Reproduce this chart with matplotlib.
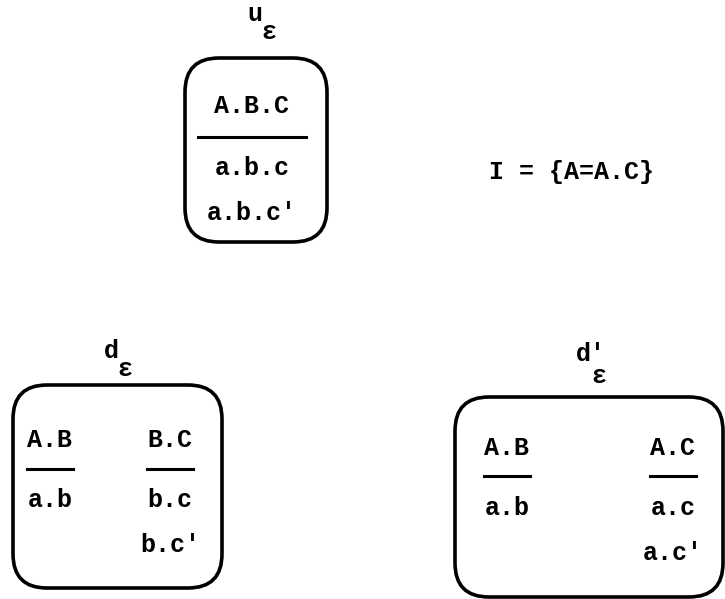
import matplotlib
matplotlib.use("Agg")
import matplotlib.pyplot as plt
from matplotlib.patches import FancyBboxPatch

# ---- data (text content of the diagram) ----
box_names = ["u", "d", "d'"]
box_sub = ["ε", "ε", "ε"]
top_num = ["A.B.C"]
top_den = ["a.b.c", "a.b.c'"]
left_num = ["A.B", "B.C"]
left_den = [["a.b"], ["b.c", "b.c'"]]
right_num = ["A.B", "A.C"]
right_den = [["a.b"], ["a.c", "a.c'"]]
side_text = "I = {A=A.C}"

W, H = 725, 599
fig = plt.figure(figsize=(W / 100, H / 100), dpi=100)
ax = fig.add_axes([0, 0, 1, 1])
ax.set_xlim(0, W)
ax.set_ylim(H, 0)
ax.axis("off")

FONT = dict(family=["Liberation Mono", "DejaVu Sans Mono"], weight="bold",
            fontsize=18, color="black", ha="center", va="center")


def box(x0, y0, x1, y1, r):
    p = FancyBboxPatch((x0 + r, y0 + r), (x1 - x0) - 2 * r, (y1 - y0) - 2 * r,
                       boxstyle=f"round,pad={r},rounding_size={r}",
                       fill=False, lw=2.6, ec="black")
    ax.add_patch(p)


def title(x, y, name, sub, dx=14, dy=18):
    ax.text(x, y, name, **FONT)
    ax.text(x + dx, y + dy, sub, **FONT)


def frac(xc, y_num, y_line, y_den, num, dens, half):
    ax.text(xc, y_num, num, **FONT)
    ax.plot([xc - half, xc + half], [y_line, y_line], color="black", lw=2.2)
    for i, d in enumerate(dens):
        ax.text(xc, y_den + i * 45, d, **FONT)


# top box
title(255, 14, box_names[0], box_sub[0])
box(185, 58, 327, 242, 34)
frac(252, 106, 137, 168, top_num[0], top_den, 54)
ax.text(572, 172, side_text, **FONT)

# bottom-left box
title(111, 351, box_names[1], box_sub[1])
box(13, 385, 222, 588, 34)
frac(50, 440, 469, 500, left_num[0], left_den[0], 23)
frac(170, 440, 469, 500, left_num[1], left_den[1], 23)

# bottom-right box
title(591, 354, box_names[2], box_sub[2], dx=8, dy=22)
box(455, 397, 723, 597, 34)
frac(507, 448, 476, 508, right_num[0], right_den[0], 23)
frac(673, 448, 476, 508, right_num[1], right_den[1], 23)

fig.savefig("out.png", dpi=100)
